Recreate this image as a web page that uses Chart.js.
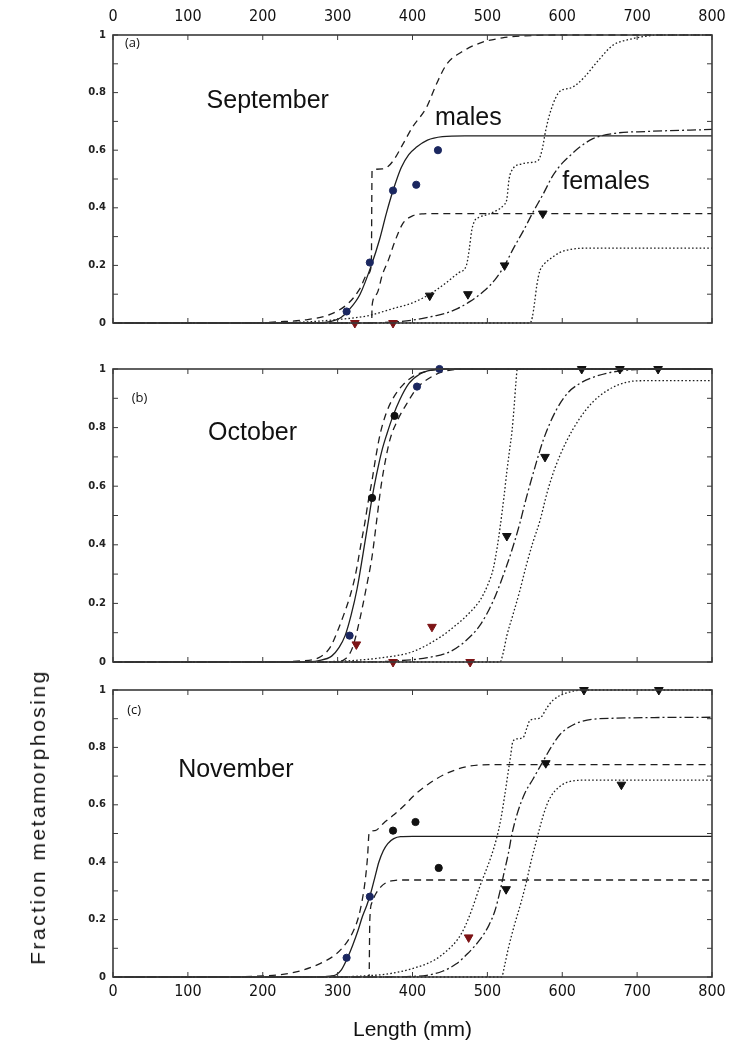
<!DOCTYPE html>
<html>
<head>
<meta charset="utf-8">
<script src="https://cdn.jsdelivr.net/npm/chart.js@4.4.1/dist/chart.umd.min.js"></script>
<style>
  html, body { margin: 0; background: #fff; }
  #wrap { position: relative; width: 739px; height: 1044px; overflow: hidden; }
  #wrap canvas { position: absolute; left: 0; }
  .ytitle {
    position: absolute; left: 38px; top: 817px;
    transform: translate(-50%, -50%) rotate(-90deg);
    font: 21px 'Liberation Sans', Arial, sans-serif; color: #111; white-space: nowrap;
    letter-spacing: 2.5px;
  }
</style>
</head>
<body>
<div id="wrap">
  <canvas id="panelA" width="739" height="345" style="top:0"></canvas>
  <canvas id="panelB" width="739" height="330" style="top:345px"></canvas>
  <canvas id="panelC" width="739" height="389" style="top:655px"></canvas>
  <div class="ytitle">Fraction metamorphosing</div>
</div>
<script>
// ===== data (length mm, fraction) =====
const yTickLabels = { 0: '0', 2: '0.2', 4: '0.4', 6: '0.6', 8: '0.8', 10: '1' };

// September
const sepMaleFit   = [[0,0],[270,0],[290,0.005],[305,0.02],[315,0.045],[330,0.1],[345,0.2],[356,0.29],[365,0.38],[374,0.46],[385,0.54],[395,0.585],[405,0.61],[420,0.635],[440,0.647],[470,0.65],[800,0.65]];
const sepMaleUpper = [[0,0],[180,0],[220,0.004],[260,0.012],[290,0.03],[315,0.07],[330,0.12],[340,0.17],[345,0.2],[346,0.53],[360,0.535],[368,0.545],[376,0.57],[387,0.62],[400,0.68],[419,0.75],[432,0.83],[446,0.9],[465,0.94],[490,0.972],[520,0.99],[550,0.997],[600,1],[800,1]];
const sepMaleLower = [[0,0],[345.5,0],[346,0.06],[352,0.1],[360,0.17],[368,0.22],[376,0.28],[387,0.345],[400,0.372],[415,0.379],[430,0.38],[800,0.38]];
const sepFemFit    = [[0,0],[330,0],[370,0.003],[400,0.01],[430,0.025],[446,0.035],[460,0.05],[477,0.075],[495,0.11],[510,0.15],[523,0.2],[535,0.26],[548,0.32],[561,0.385],[575,0.45],[587,0.51],[600,0.555],[612,0.585],[623,0.61],[641,0.64],[668,0.658],[713,0.665],[800,0.672]];
const sepFemUpper  = [[0,0],[200,0],[260,0.004],[300,0.012],[340,0.025],[374,0.05],[400,0.07],[423,0.1],[445,0.14],[462,0.175],[472,0.2],[476,0.26],[479,0.32],[483,0.355],[490,0.368],[499,0.376],[512,0.39],[522,0.41],[526,0.43],[529,0.5],[534,0.535],[545,0.552],[560,0.558],[568,0.565],[573,0.6],[578,0.67],[585,0.74],[597,0.805],[610,0.815],[620,0.83],[630,0.855],[646,0.905],[668,0.965],[690,0.985],[710,0.995],[726,1],[800,1]];
const sepFemLower  = [[0,0],[557,0],[560,0.02],[563,0.07],[566,0.13],[570,0.18],[576,0.205],[585,0.225],[597,0.245],[612,0.256],[640,0.26],[800,0.26]];
const sepMaleBlue  = [[312,0.04],[343,0.21],[374,0.46],[405,0.48],[434,0.6]];
const sepMaleBlack = [];
const sepFemBlack  = [[423,0.095],[474,0.1],[523,0.2],[574,0.38]];
const sepFemRed    = [[323,0],[374,0]];

// October
const octMaleFit   = [[0,0],[250,0],[275,0.005],[292,0.02],[302,0.05],[310,0.09],[318,0.16],[326,0.25],[334,0.37],[341,0.48],[346,0.56],[352,0.64],[359,0.72],[366,0.78],[374,0.84],[383,0.895],[395,0.95],[410,0.983],[425,0.996],[445,1],[800,1]];
const octMaleUpper = [[0,0],[200,0],[250,0.004],[275,0.015],[290,0.05],[299,0.1],[308,0.16],[316,0.22],[324,0.3],[331,0.4],[336,0.47],[341,0.55],[346,0.62],[351,0.7],[357,0.78],[365,0.85],[374,0.9],[387,0.945],[401,0.975],[420,0.993],[440,1],[800,1]];
const octMaleLower = [[0,0],[295,0],[310,0.01],[320,0.05],[330,0.15],[338,0.25],[346,0.36],[352,0.48],[358,0.6],[364,0.69],[370,0.76],[381,0.83],[392,0.88],[406,0.935],[420,0.965],[440,0.99],[470,1],[800,1]];
const octFemFit    = [[0,0],[330,0],[380,0.004],[420,0.015],[450,0.035],[470,0.07],[490,0.125],[508,0.21],[526,0.33],[535,0.4],[543,0.47],[552,0.56],[563,0.66],[575,0.76],[592,0.86],[608,0.92],[623,0.95],[645,0.975],[668,0.99],[720,1],[800,1]];
const octFemUpper  = [[0,0],[260,0],[320,0.005],[360,0.015],[400,0.035],[437,0.085],[460,0.13],[477,0.17],[490,0.21],[500,0.26],[508,0.32],[513,0.39],[517,0.46],[522,0.56],[526,0.65],[530,0.73],[533,0.79],[536,0.88],[538,0.95],[540,1],[800,1]];
const octFemLower  = [[0,0],[517,0],[521,0.03],[526,0.09],[534,0.16],[543,0.24],[552,0.33],[561,0.41],[570,0.48],[580,0.58],[590,0.66],[605,0.75],[623,0.83],[640,0.885],[659,0.925],[686,0.955],[710,0.96],[800,0.96]];
const octMaleBlue  = [[316,0.09],[406,0.94],[436,1]];
const octMaleBlack = [[346,0.56],[376,0.84]];
const octFemBlack  = [[526,0.43],[577,0.7],[626,1],[677,1],[728,1]];
const octFemRed    = [[325,0.06],[426,0.12],[374,0],[477,0]];

// November
const novMaleFit   = [[0,0],[270,0],[290,0.003],[298,0.008],[305,0.025],[312,0.06],[320,0.11],[327,0.16],[333,0.21],[339,0.25],[344,0.29],[350,0.35],[355,0.4],[361,0.44],[367,0.465],[375,0.482],[384,0.489],[400,0.49],[800,0.49]];
const novMaleUpper = [[0,0],[150,0],[200,0.004],[229,0.01],[255,0.025],[275,0.045],[298,0.08],[312,0.12],[321,0.16],[328,0.21],[333,0.27],[337,0.34],[340,0.42],[342,0.5],[350,0.51],[361,0.535],[375,0.565],[390,0.6],[401,0.63],[420,0.67],[446,0.71],[477,0.735],[510,0.74],[800,0.74]];
const novMaleLower = [[0,0],[342,0],[343,0.2],[346,0.26],[351,0.29],[358,0.315],[366,0.33],[375,0.336],[390,0.338],[800,0.338]];
const novFemFit    = [[0,0],[360,0],[400,0.002],[419,0.006],[440,0.02],[458,0.045],[473,0.08],[490,0.13],[502,0.18],[510,0.23],[517,0.3],[522,0.36],[528,0.43],[533,0.5],[540,0.57],[550,0.64],[561,0.69],[574,0.75],[585,0.8],[597,0.845],[610,0.872],[623,0.888],[650,0.9],[800,0.905]];
const novFemUpper  = [[0,0],[280,0],[330,0.003],[370,0.012],[407,0.035],[430,0.06],[447,0.094],[460,0.13],[470,0.175],[480,0.24],[490,0.316],[498,0.37],[505,0.42],[512,0.48],[518,0.55],[523,0.63],[527,0.7],[531,0.77],[534,0.82],[540,0.83],[548,0.835],[553,0.87],[557,0.895],[570,0.902],[580,0.94],[588,0.965],[606,0.99],[629,1],[800,1]];
const novFemLower  = [[0,0],[519,0],[523,0.04],[528,0.1],[536,0.18],[545,0.26],[552,0.33],[559,0.41],[565,0.47],[571,0.53],[578,0.59],[585,0.63],[595,0.66],[606,0.678],[633,0.686],[800,0.686]];
const novMaleBlue  = [[312,0.067],[343,0.28]];
const novMaleBlack = [[374,0.51],[404,0.54],[435,0.38]];
const novFemBlack  = [[525,0.306],[578,0.745],[629,1],[729,1],[679,0.67]];
const novFemRed    = [[475,0.138]];

// ===== styles =====
const INK = '#1e1e1e';
const BLUE = '#1b2760';
const RED = '#7d1416';
const DASH = [7, 5];
const DOT = [1.6, 2.2];
const DASHDOT = [9, 3, 2, 3];
const tickFont = { family: "'Liberation Sans Narrow', 'DejaVu Sans Condensed', sans-serif", size: 16 };
const yFont = { family: "'DejaVu Sans', sans-serif", size: 10, weight: 'bold' };
const noteFont = "25px 'Liberation Sans', Arial, sans-serif";
const tagFont = "13px 'Open Sans', sans-serif";

const toXY = pts => pts.map(([x, y]) => ({ x, y }));

const curve = (pts, dash) => ({
  data: toXY(pts),
  showLine: true,
  borderColor: INK,
  borderWidth: 1.3,
  borderDash: dash,
  pointRadius: 0,
  cubicInterpolationMode: 'monotone',
  clip: 4,
  order: 2,
});

const marks = (pts, color, style) => ({
  data: toXY(pts),
  showLine: false,
  pointStyle: style,
  pointRadius: style === 'triangle' ? 5 : 3.6,
  rotation: style === 'triangle' ? 180 : 0,
  backgroundColor: color,
  borderColor: color,
  borderWidth: 1,
  clip: false,
  order: 0,
});

// box + inward ticks
const framePlugin = {
  id: 'frame',
  afterDatasetsDraw(chart) {
    const { ctx, chartArea: a, scales: { x, y } } = chart;
    ctx.save();
    ctx.strokeStyle = '#3a3a3a';
    ctx.lineWidth = 1;
    ctx.beginPath();
    y.ticks.forEach(t => {
      const py = y.getPixelForValue(t.value);
      ctx.moveTo(a.left, py); ctx.lineTo(a.left + 5, py);
      ctx.moveTo(a.right, py); ctx.lineTo(a.right - 5, py);
    });
    x.ticks.forEach(t => {
      const px = x.getPixelForValue(t.value);
      ctx.moveTo(px, a.top); ctx.lineTo(px, a.top + 5);
      ctx.moveTo(px, a.bottom); ctx.lineTo(px, a.bottom - 5);
    });
    ctx.stroke();
    ctx.lineWidth = 1.6;
    ctx.strokeRect(a.left, a.top, a.width, a.height);
    ctx.restore();
  },
};

// text placed in data units
const notesPlugin = {
  id: 'notes',
  afterDraw(chart, args, opts) {
    const { ctx, scales: { x, y } } = chart;
    ctx.save();
    ctx.fillStyle = '#111';
    ctx.textBaseline = 'middle';
    (opts.items || []).forEach(n => {
      ctx.font = n.font;
      ctx.fillText(n.text, x.getPixelForValue(n.x), y.getPixelForValue(n.y));
    });
    ctx.restore();
  },
};

function makePanel(id, sets, notes, axis) {
  const datasets = [
    marks(sets.maleBlue, BLUE, 'circle'),
    marks(sets.maleBlack, '#111', 'circle'),
    marks(sets.femBlack, '#111', 'triangle'),
    marks(sets.femRed, RED, 'triangle'),
    curve(sets.maleFit, []),
    curve(sets.maleUpper, DASH),
    curve(sets.maleLower, DASH),
    curve(sets.femFit, DASHDOT),
    curve(sets.femUpper, DOT),
    curve(sets.femLower, DOT),
  ];

  return new Chart(document.getElementById(id), {
    type: 'scatter',
    data: { datasets },
    options: {
      responsive: false,
      animation: false,
      layout: { padding: { left: 0, right: 27, top: axis.padTop, bottom: axis.padBottom } },
      scales: {
        x: {
          type: 'linear',
          position: axis.xPos,
          min: 0, max: 800,
          grid: { display: false, drawTicks: false },
          border: { display: false },
          ticks: { display: axis.xLabels, stepSize: 100, autoSkip: false, color: '#111', font: tickFont, padding: axis.xPad },
          title: {
            display: !!axis.xTitle,
            text: axis.xTitle || '',
            color: '#111',
            font: { family: "'Liberation Sans', Arial, sans-serif", size: 21 },
            padding: { top: 4, bottom: 1 },
          },
          afterFit: s => { s.height = axis.xHeight; },
        },
        y: {
          min: 0, max: 1,
          grid: { display: false, drawTicks: false },
          border: { display: false },
          ticks: {
            stepSize: 0.1,
            autoSkip: false,
            color: '#222',
            font: yFont,
            padding: 7,
            callback: v => yTickLabels[Math.round(v * 10)] ?? '',
          },
          afterFit: s => { s.width = 113; },
        },
      },
      plugins: {
        legend: { display: false },
        tooltip: { enabled: false },
        notes: { items: notes },
      },
    },
    plugins: [framePlugin, notesPlugin],
  });
}

makePanel('panelA', {
  maleFit: sepMaleFit, maleUpper: sepMaleUpper, maleLower: sepMaleLower,
  femFit: sepFemFit, femUpper: sepFemUpper, femLower: sepFemLower,
  maleBlue: sepMaleBlue, maleBlack: sepMaleBlack, femBlack: sepFemBlack, femRed: sepFemRed,
}, [
  { text: '(a)', x: 16, y: 0.97, font: tagFont },
  { text: 'September', x: 125, y: 0.77, font: noteFont },
  { text: 'males', x: 430, y: 0.71, font: noteFont },
  { text: 'females', x: 600, y: 0.49, font: noteFont },
], { xPos: 'top', xLabels: true, xPad: 9, xHeight: 35, padTop: 0, padBottom: 22 });

makePanel('panelB', {
  maleFit: octMaleFit, maleUpper: octMaleUpper, maleLower: octMaleLower,
  femFit: octFemFit, femUpper: octFemUpper, femLower: octFemLower,
  maleBlue: octMaleBlue, maleBlack: octMaleBlack, femBlack: octFemBlack, femRed: octFemRed,
}, [
  { text: '(b)', x: 25, y: 0.9, font: tagFont },
  { text: 'October', x: 127, y: 0.78, font: noteFont },
], { xPos: 'bottom', xLabels: false, xPad: 0, xHeight: 0, padTop: 24, padBottom: 13 });

makePanel('panelC', {
  maleFit: novMaleFit, maleUpper: novMaleUpper, maleLower: novMaleLower,
  femFit: novFemFit, femUpper: novFemUpper, femLower: novFemLower,
  maleBlue: novMaleBlue, maleBlack: novMaleBlack, femBlack: novFemBlack, femRed: novFemRed,
}, [
  { text: '(c)', x: 19, y: 0.93, font: tagFont },
  { text: 'November', x: 87, y: 0.72, font: noteFont },
], { xPos: 'bottom', xLabels: true, xPad: 5, xHeight: 67, xTitle: 'Length (mm)', padTop: 35, padBottom: 0 });
</script>
</body>
</html>
